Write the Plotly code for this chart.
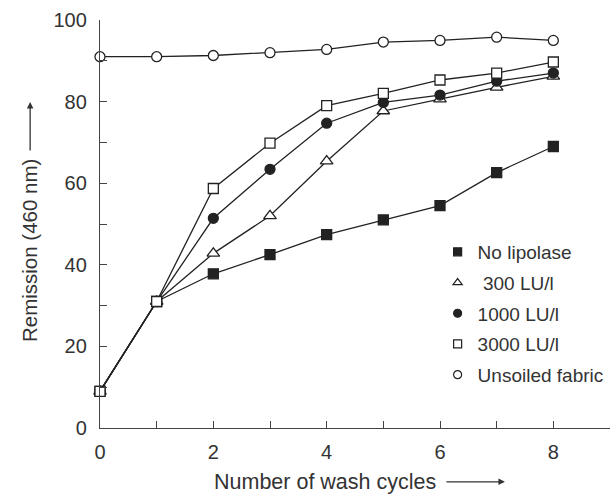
import plotly.graph_objects as go

cycles = [0, 1, 2, 3, 4, 5, 6, 7, 8]
no_lipolase = [9, 31, 37.8, 42.5, 47.4, 51, 54.5, 62.6, 69]
lu300 = [9, 31, 42.8, 52, 65.4, 77.7, 80.6, 83.5, 86.2]
lu1000 = [9, 31, 51.4, 63.4, 74.7, 79.8, 81.6, 85, 87]
lu3000 = [9, 31, 58.7, 69.8, 79, 82, 85.3, 87, 89.7]
unsoiled = [91, 91, 91.3, 92, 92.8, 94.6, 95, 95.8, 95]

names = ["No lipolase", " 300 LU/l", "1000 LU/l", "3000 LU/l", "Unsoiled fabric"]
values = [no_lipolase, lu300, lu1000, lu3000, unsoiled]
symbols = ["square", "triangle-up", "circle", "square", "circle"]
filled = [True, False, True, False, False]

INK = "#222"
fig = go.Figure()
for i, (name, vals, sym, fill) in enumerate(zip(names, values, symbols, filled)):
    fc = INK if fill else "white"
    fig.add_trace(go.Scatter(
        x=cycles, y=vals, mode="lines+markers", showlegend=False,
        line=dict(color=INK, width=1.3),
        marker=dict(symbol=sym, size=10 if sym != "triangle-up" else 11, color=fc,
                    line=dict(color=INK, width=1.3)),
        cliponaxis=False,
    ))
    # legend entry (marker only, smaller glyph)
    fig.add_trace(go.Scatter(
        x=[None], y=[None], mode="markers", name=name, legendgroup=str(i),
        marker=dict(symbol=sym, size=8, color=fc, line=dict(color=INK, width=1.2)),
    ))

font = "Liberation Sans, Arial, sans-serif"
fig.update_layout(
    width=613, height=494,
    margin=dict(l=100, r=3, t=20, b=66, autoexpand=False),
    plot_bgcolor="white", paper_bgcolor="white",
    font=dict(family=font, size=20, color="#333"),
    showlegend=True,
    legend=dict(x=0.662, y=0.478, xanchor="left", yanchor="top",
                bgcolor="rgba(0,0,0,0)", font=dict(size=19, color="#333"),
                traceorder="grouped", tracegroupgap=3, itemwidth=30),
    xaxis=dict(range=[0, 9], tickvals=list(range(0, 10)),
               ticktext=["0", "", "2", "", "4", "", "6", "", "8", ""],
               ticks="inside", ticklen=7, tickcolor="#444", showline=True,
               linecolor="#444", linewidth=1.3, showgrid=False, zeroline=False,
               tickfont=dict(size=20), ticklabelstandoff=6),
    yaxis=dict(range=[0, 100], tickvals=list(range(0, 101, 10)),
               ticktext=["0", "", "20", "", "40", "", "60", "", "80", "", "100"],
               ticks="inside", ticklen=7, tickcolor="#444", showline=True,
               linecolor="#444", linewidth=1.3, showgrid=False, zeroline=False,
               tickfont=dict(size=20), ticklabelstandoff=8),
)

fig.add_annotation(text="Number of wash cycles", xref="paper", yref="paper",
                   x=0.441, y=-0.132, xanchor="center", yanchor="middle",
                   showarrow=False, font=dict(size=21.5))
fig.add_annotation(xref="paper", yref="paper", x=0.794, y=-0.132, ax=-60, ay=0,
                   showarrow=True, arrowhead=2,
                   arrowsize=1, arrowwidth=1.3, arrowcolor="#333", text="")
fig.add_annotation(text="Remission (460 nm)", xref="paper", yref="paper",
                   x=-0.137, y=0.434, xanchor="center", yanchor="middle",
                   showarrow=False, textangle=-90, font=dict(size=20.5))
fig.add_annotation(xref="paper", yref="paper", x=-0.137, y=0.799, ax=0, ay=50,
                   showarrow=True, arrowhead=2,
                   arrowsize=1, arrowwidth=1.3, arrowcolor="#333", text="")

fig.write_html("out.html")
